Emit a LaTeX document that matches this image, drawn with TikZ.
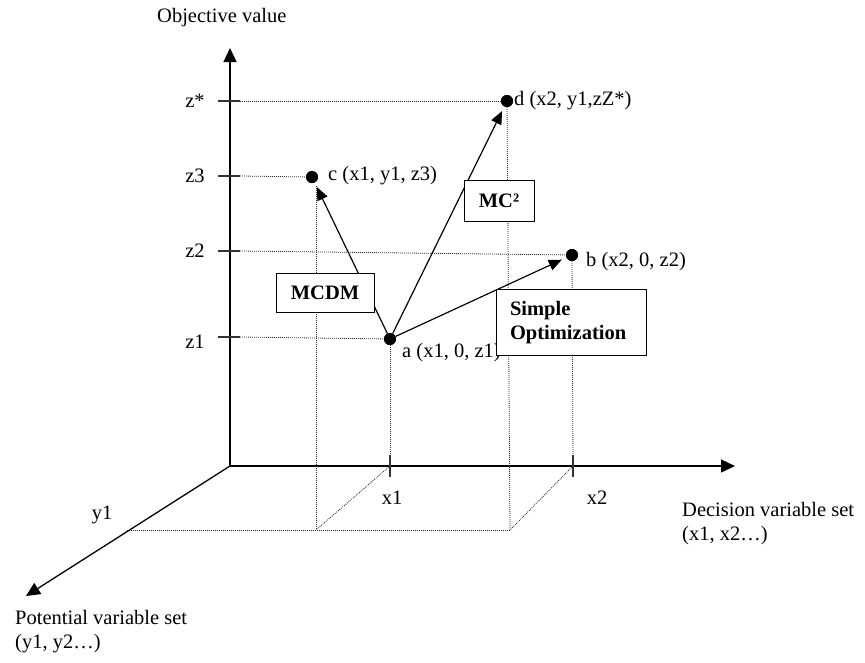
\documentclass[tikz,border=0pt]{standalone}
\usepackage{fontspec}
\setmainfont{Liberation Serif}
\usetikzlibrary{arrows.meta}
\begin{document}
\begin{tikzpicture}[x=1pt,y=-1pt,
  every node/.style={font=\fontsize{20.5}{24}\selectfont, inner sep=0pt},
  axisline/.style={line width=1.3pt, -{Triangle[length=14pt,width=13pt]}},
  guide/.style={line width=0.8pt, black!85, dash pattern=on 0.9pt off 1.1pt},
  tick/.style={line width=1.5pt, black!80},
  dot/.style={circle, fill=black, minimum size=12pt, inner sep=0pt},
  move/.style={line width=1.2pt, -{Triangle[length=13pt,width=11pt]}, shorten >=5pt},
  method/.style={draw, line width=0.9pt, fill=white, font=\fontsize{20.5}{24}\selectfont\bfseries},
  lbl/.style={anchor=west}
]
\useasboundingbox (0,0) rectangle (865,662);

% axis coordinates
\coordinate (O) at (230,466);
\coordinate (ztip) at (230,48);
\coordinate (xtip) at (735,466);
\coordinate (ytip) at (26,596);

% tick coordinates
\coordinate (tzs) at (240,101);
\coordinate (tz3) at (240,176);
\coordinate (tz2) at (240,251);
\coordinate (tz1) at (240,337);
\coordinate (tx1) at (390,466);
\coordinate (tx2) at (573,466);
\coordinate (ty1) at (127,530);
\coordinate (px1) at (316,530);
\coordinate (px2) at (510,530);
\coordinate (cfoot) at (316,186);

% points
\node[dot] (a) at (390,339) {};
\node[dot] (b) at (572,255) {};
\node[dot] (c) at (312,177) {};
\node[dot] (d) at (507,101) {};

% guide lines
\draw[guide] (tzs) -- (d.center);
\draw[guide] (tz3) -- (c.center);
\draw[guide] (tz2) -- (b.center);
\draw[guide] (tz1) -- (a.center);
\draw[guide] (a.center) -- (tx1);
\draw[guide] (b.center) -- (tx2);
\draw[guide] (cfoot) -- (px1);
\draw[guide] (d.center) -- (px2);
\draw[guide] (tx1) -- (px1);
\draw[guide] (tx2) -- (px2);
\draw[guide] (ty1) -- (px2);

% axes
\draw[axisline] (O) -- (ztip);
\draw[axisline] (O) -- (xtip);
\draw[axisline] (O) -- (ytip);

% ticks
\draw[tick] (218,101) -- (tzs);
\draw[tick] (218,176) -- (tz3);
\draw[tick] (218,251) -- (tz2);
\draw[tick] (218,337) -- (tz1);
\draw[tick] (390,455) -- (390,477);
\draw[tick] (573,455) -- (573,477);

% moves
\draw[move] (a) -- (c);
\draw[move] (a) -- (d);
\draw[move] (a) -- (b);

% point labels (drawn before boxes, which cover them)
\node[lbl] (lc) at (328,176) {c (x1, y1, z3)};
\node[lbl] (ld) at (514,101) {d (x2, y1,zZ*)};
\node[lbl] (lb) at (586,262) {b (x2, 0, z2)};
\node[lbl] (la) at (402,353) {a (x1, 0, z1)};

% method boxes
\node[method, minimum width=98pt, minimum height=39pt] (mcdm) at (325,292.5) {MCDM};
\node[method, minimum width=70pt, minimum height=41pt] (mc2) at (499,200.5) {MC²};
\node[method, minimum width=150pt, minimum height=66pt, align=left, text width=122pt] (simple) at (571,322.5) {Simple\\Optimization};

% redraw dots on top
\node[dot] at (a) {};
\node[dot] at (b) {};
\node[dot] at (c) {};
\node[dot] at (d) {};

% axis labels
\node[anchor=west] (lobj) at (157,18) {Objective value};
\node (lzs) at (195,101) {z*};
\node (lz3) at (195,176) {z3};
\node (lz2) at (195,251) {z2};
\node (lz1) at (195,342) {z1};
\node (lx1) at (392,498) {x1};
\node (lx2) at (597,498) {x2};
\node (ly1) at (102,515) {y1};
\node[anchor=north west, align=left] (ldec) at (682,502) {Decision variable set\\(x1, x2…)};
\node[anchor=north west, align=left] (lpot) at (15,610) {Potential variable set\\(y1, y2…)};
\end{tikzpicture}
\end{document}
